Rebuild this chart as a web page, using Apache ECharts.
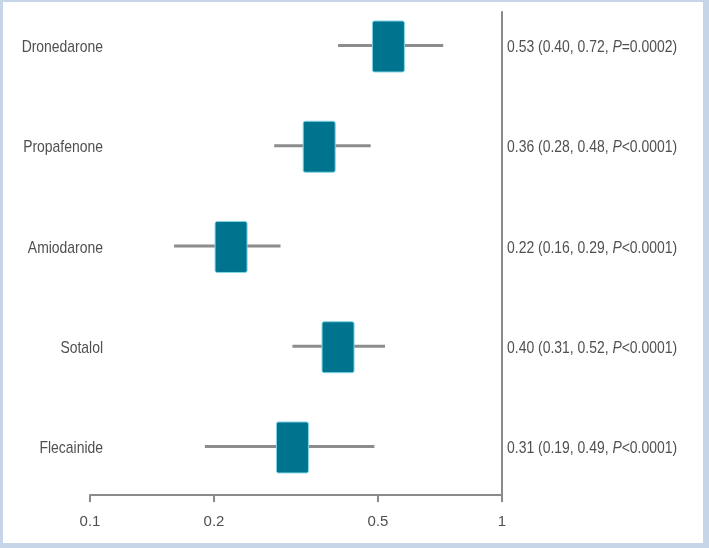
<!DOCTYPE html>
<html><head><meta charset="utf-8">
<script src="https://cdn.jsdelivr.net/npm/echarts@6/dist/echarts.min.js"></script>
<style>html,body{margin:0;padding:0;background:#fff}#c{width:709px;height:548px}</style>
</head><body><div id="c"></div>
<script>
const drugs = ['Dronedarone', 'Propafenone', 'Amiodarone', 'Sotalol', 'Flecainide'];
const estimates = [0.53, 0.36, 0.22, 0.40, 0.31];
const lowerCI = [0.40, 0.28, 0.16, 0.31, 0.19];
const upperCI = [0.72, 0.48, 0.29, 0.52, 0.49];
const pSigns = ['=', '<', '<', '<', '<'];
const pValues = ['0.0002', '0.0001', '0.0001', '0.0001', '0.0001'];
const xTicks = [0.1, 0.2, 0.5, 1];

const FONT = "'Liberation Sans', Arial, sans-serif";
const TXT = '#505050';
const NARROW = 0.82;

const chart = echarts.init(document.getElementById('c'), null, {renderer: 'canvas'});
const data = drugs.map((d, i) => [i, estimates[i], lowerCI[i], upperCI[i]]);

chart.setOption({
  animation: false,
  backgroundColor: '#ffffff',
  grid: {left: 90, width: 412, top: 12, bottom: 53},
  xAxis: {
    type: 'log', logBase: 10, min: 0.1, max: 1,
    axisLine: {show: true, onZero: false, lineStyle: {color: '#8a8a8a', width: 2}},
    axisTick: {show: true, customValues: xTicks, length: 7, lineStyle: {color: '#8a8a8a', width: 2}},
    axisLabel: {customValues: xTicks, color: TXT, fontSize: 15, fontFamily: "'Liberation Sans Narrow', 'Liberation Sans', sans-serif", margin: 19,
      formatter: v => String(+(+v).toPrecision(3))},
    splitLine: {show: false},
    minorTick: {show: false}
  },
  yAxis: {
    type: 'value', inverse: true, min: -0.344, max: 4.474, position: 'right',
    axisLine: {show: true, onZero: false, lineStyle: {color: '#8a8a8a', width: 2}},
    axisTick: {show: false}, axisLabel: {show: false}, splitLine: {show: false}
  },
  graphic: [
    {type: 'rect', shape: {x: 0, y: 0, width: 709, height: 2}, style: {fill: '#c6d5e8'}},
    {type: 'rect', shape: {x: 0, y: 0, width: 3, height: 548}, style: {fill: '#c6d5e8'}},
    {type: 'rect', shape: {x: 703, y: 0, width: 6, height: 548}, style: {fill: '#c6d5e8'}},
    {type: 'rect', shape: {x: 0, y: 543, width: 709, height: 5}, style: {fill: '#c6d5e8'}}
  ],
  series: [{
    type: 'custom',
    clip: false,
    data: data,
    encode: {x: [1, 2, 3], y: 0},
    renderItem: function (params, api) {
      const i = api.value(0);
      const est = api.value(1), lo = api.value(2), hi = api.value(3);
      const c = api.coord([est, i]);
      const l = api.coord([lo, i]);
      const h = api.coord([hi, i]);
      const left = api.coord([0.1, i]);
      const right = api.coord([1, i]);
      const txt = '{n|' + estimates[i].toFixed(2) + ' (' + lowerCI[i].toFixed(2) + ', ' + upperCI[i].toFixed(2) + ', }{i|P}{n|' + pSigns[i] + pValues[i] + ')}';
      return {
        type: 'group',
        children: [
          {type: 'line', shape: {x1: l[0], y1: c[1] - 1, x2: h[0], y2: c[1] - 1},
            style: {stroke: '#8c8c8c', lineWidth: 3}},
          {type: 'rect', shape: {x: c[0] - 16, y: c[1] - 25.5, width: 32, height: 51, r: 2},
            style: {fill: '#00748f', stroke: '#7fd6e6', lineWidth: 1}},
          {type: 'text', x: left[0] + 13, y: c[1] + 1, scaleX: NARROW,
            style: {text: drugs[i], align: 'right', verticalAlign: 'middle', fill: TXT,
              fontSize: 17, fontFamily: FONT}},
          {type: 'text', x: right[0] + 5, y: c[1] + 1, scaleX: NARROW,
            style: {text: txt, align: 'left', verticalAlign: 'middle',
              rich: {
                n: {fill: TXT, fontSize: 17, fontFamily: FONT},
                i: {fill: TXT, fontSize: 17, fontFamily: FONT, fontStyle: 'italic'}
              }}}
        ]
      };
    }
  }]
});
</script>
</body></html>
